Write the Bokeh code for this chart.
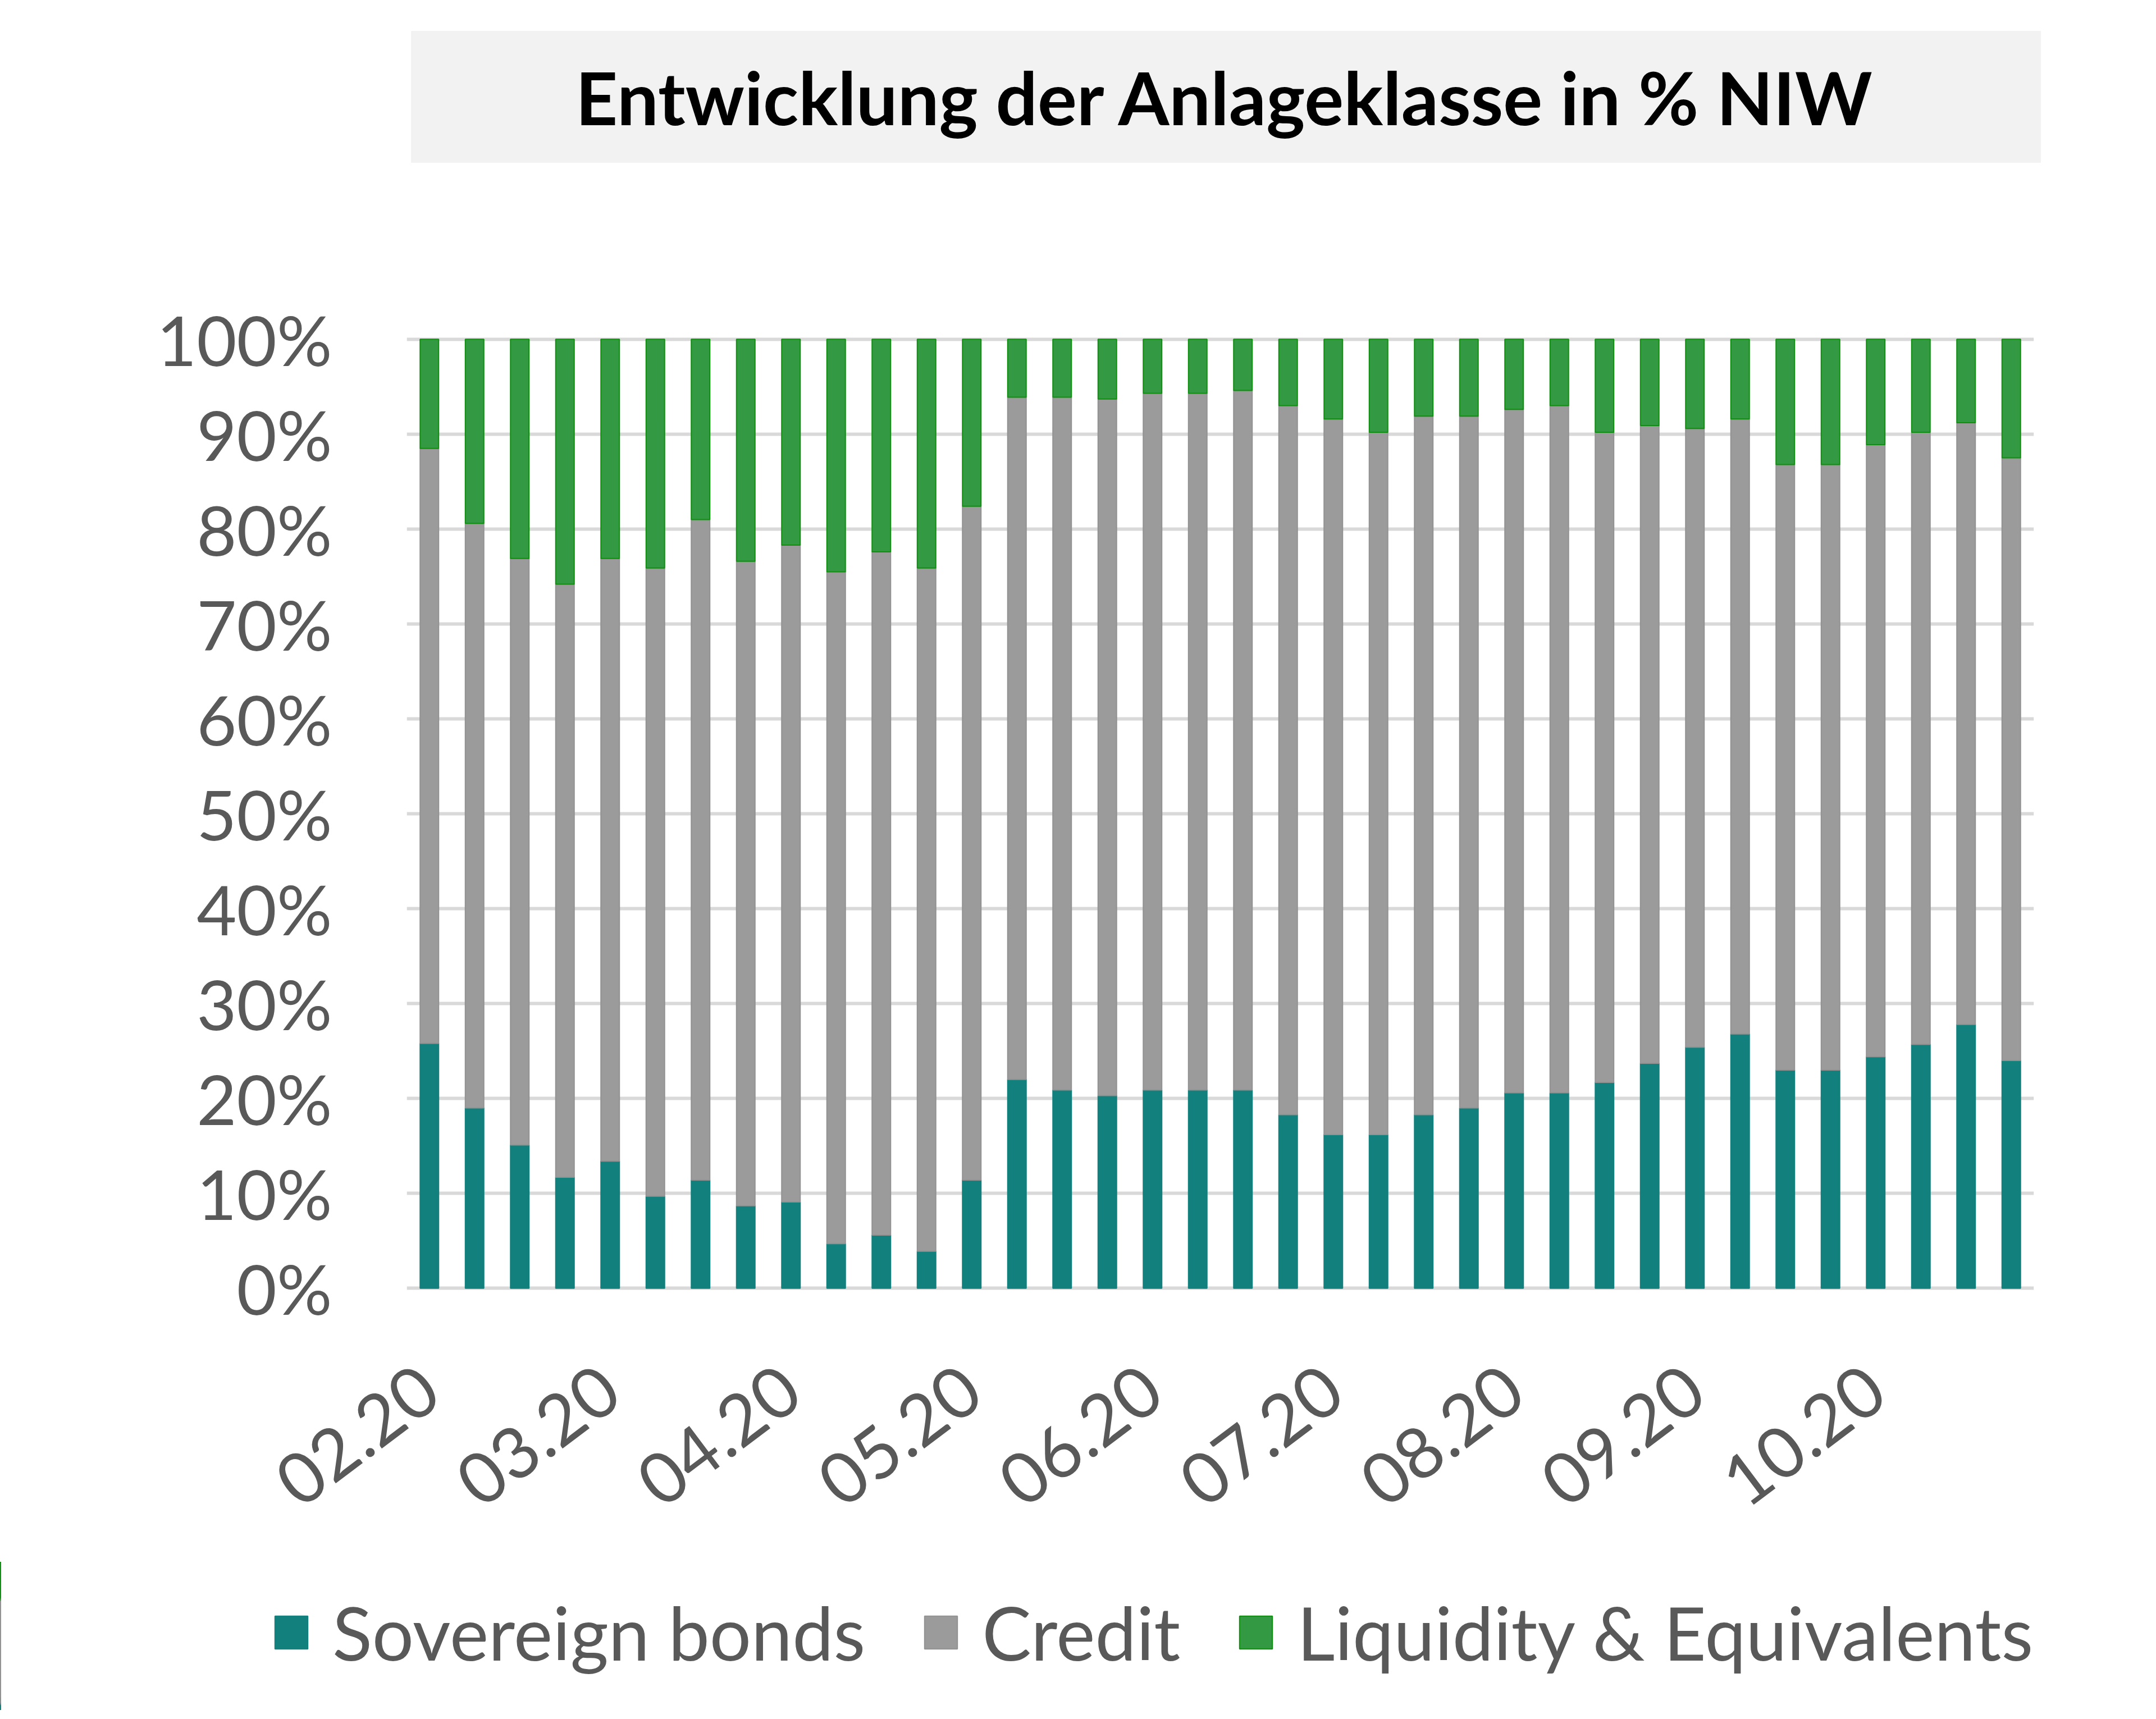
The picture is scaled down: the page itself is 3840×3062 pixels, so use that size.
import math
from bokeh.plotting import figure
from bokeh.layouts import column
from bokeh.models import FixedTicker, Legend, LegendItem, Label, ColumnDataSource, Range1d
from bokeh.embed import file_html
from bokeh.resources import INLINE

# ---- data (percent of NIW) ----
month_labels = ["02.20", "03.20", "04.20", "05.20", "06.20", "07.20", "08.20", "09.20", "10.20"]
sovereign = [25.8, 19.0, 15.1, 11.7, 13.4, 9.7, 11.4, 8.7, 9.1, 4.7, 5.6, 3.9,
             11.4, 22.0, 20.9, 20.3, 20.9, 20.9, 20.9, 18.3, 16.2, 16.2, 18.3, 19.0,
             20.6, 20.6, 21.7, 23.7, 25.4, 26.8, 23.0, 23.0, 24.4, 25.7, 27.8, 24.0]
credit = [62.7, 61.6, 61.8, 62.5, 63.5, 66.2, 69.6, 67.9, 69.2, 70.8, 72.0, 72.0,
          71.0, 71.9, 73.0, 73.4, 73.4, 73.4, 73.7, 74.7, 75.4, 74.0, 73.6, 72.9,
          72.0, 72.4, 68.5, 67.2, 65.2, 64.8, 63.8, 63.8, 64.5, 64.5, 63.4, 63.5]
liquidity = [11.5, 19.4, 23.1, 25.8, 23.1, 24.1, 19.0, 23.4, 21.7, 24.5, 22.4, 24.1,
             17.6, 6.1, 6.1, 6.3, 5.7, 5.7, 5.4, 7.0, 8.4, 9.8, 8.1, 8.1,
             7.4, 7.0, 9.8, 9.1, 9.4, 8.4, 13.2, 13.2, 11.1, 9.8, 8.8, 12.5]
series_names = ["Sovereign bonds", "Credit", "Liquidity & Equivalents"]
chart_title = "Entwicklung der Anlageklasse in % NIW"
bars_per_month = 4

n = len(sovereign)
src = ColumnDataSource(dict(x=list(range(n)), sovereign=sovereign, credit=credit, liquidity=liquidity))
stack_cols = ["sovereign", "credit", "liquidity"]

FONT = "Lato"
TXT = "#595959"
W = 3824
fills = ["#12807D", "#9B9B9B", "#339A43"]
lines = ["#12807D", "#929292", "#0E900E"]

# ---------------- title strip ----------------
TH = 290
pt = figure(width=W, height=TH, output_backend="svg", toolbar_location=None,
            x_range=Range1d(0, W), y_range=Range1d(0, TH),
            x_axis_location=None, y_axis_location=None, min_border=0,
            frame_align=False,
            background_fill_color="white", border_fill_color="white")
pt.outline_line_color = None
pt.grid.grid_line_color = None
pt.add_layout(Label(x=2183, y=TH - 172, text=chart_title,
                    text_align="center", text_baseline="middle",
                    text_font=FONT, text_font_size="131px", text_font_style="bold",
                    text_color="#000000", background_fill_color="#F2F2F2",
                    padding=(293, 39)))

# ---------------- main chart ----------------
MH = 2492
p = figure(width=W, height=MH, output_backend="svg", toolbar_location=None,
           x_range=Range1d(-0.5, n - 0.5), y_range=Range1d(-0.4, 100.4),
           min_border_left=724, min_border_right=202, min_border_top=307,
           min_border_bottom=MH - 307 - 1704, frame_align=False,
           background_fill_color="white", border_fill_color="white")
p.outline_line_color = None

rs = p.vbar_stack(stack_cols, x="x", width=0.41, source=src,
                  fill_color=fills, line_color=lines, line_width=2)

yt = list(range(0, 101, 10))
p.yaxis.ticker = FixedTicker(ticks=yt)
p.yaxis.major_label_overrides = {t: f"{t}%" for t in yt}
p.yaxis.axis_line_color = None
p.yaxis.major_tick_line_color = None
p.yaxis.minor_tick_line_color = None
p.yaxis.major_label_standoff = 127
p.yaxis.major_label_text_font = FONT
p.yaxis.major_label_text_font_size = "123px"
p.yaxis.major_label_text_color = TXT

xt = [i * bars_per_month for i in range(len(month_labels))]
p.xaxis.ticker = FixedTicker(ticks=xt)
p.xaxis.major_label_overrides = {t: lab for t, lab in zip(xt, month_labels)}
p.xaxis.axis_line_color = None
p.xaxis.major_tick_line_color = None
p.xaxis.minor_tick_line_color = None
p.xaxis.major_label_orientation = math.radians(37)
p.xaxis.major_label_standoff = 152
p.xaxis.major_label_text_font = FONT
p.xaxis.major_label_text_font_size = "126px"
p.xaxis.major_label_text_color = TXT

p.xgrid.grid_line_color = None
p.ygrid.ticker = FixedTicker(ticks=yt)
p.ygrid.grid_line_color = "#D9D9D9"
p.ygrid.grid_line_width = 6
p.ygrid.level = "underlay"

# ---------------- legend strip ----------------
# the same stacked bars, with an x range that lies beside the data, so only the legend shows
LH = 3046 - TH - MH
pl = figure(width=W, height=LH, output_backend="svg", toolbar_location=None,
            x_range=Range1d(n + 0.5, n + 1.5), y_range=Range1d(0, 100),
            x_axis_location=None, y_axis_location=None, min_border=0,
            frame_align=False,
            background_fill_color="white", border_fill_color="white")
pl.outline_line_color = None
pl.grid.grid_line_color = None
lrs = pl.vbar_stack(stack_cols, x="x", width=0.41, source=src,
                    fill_color=fills, line_color=lines, line_width=2)
legend = Legend(items=[LegendItem(label=nm, renderers=[r]) for nm, r in zip(series_names, lrs)],
                orientation="horizontal", location=(482, 60),
                glyph_width=73, glyph_height=73, label_standoff=37, spacing=98,
                padding=0, margin=0, border_line_color=None, background_fill_alpha=0,
                label_text_font=FONT, label_text_font_size="131px", label_text_color=TXT)
pl.add_layout(legend, "center")

layout = column(pt, p, pl, spacing=0)
open("out.html", "w").write(file_html(layout, INLINE))
